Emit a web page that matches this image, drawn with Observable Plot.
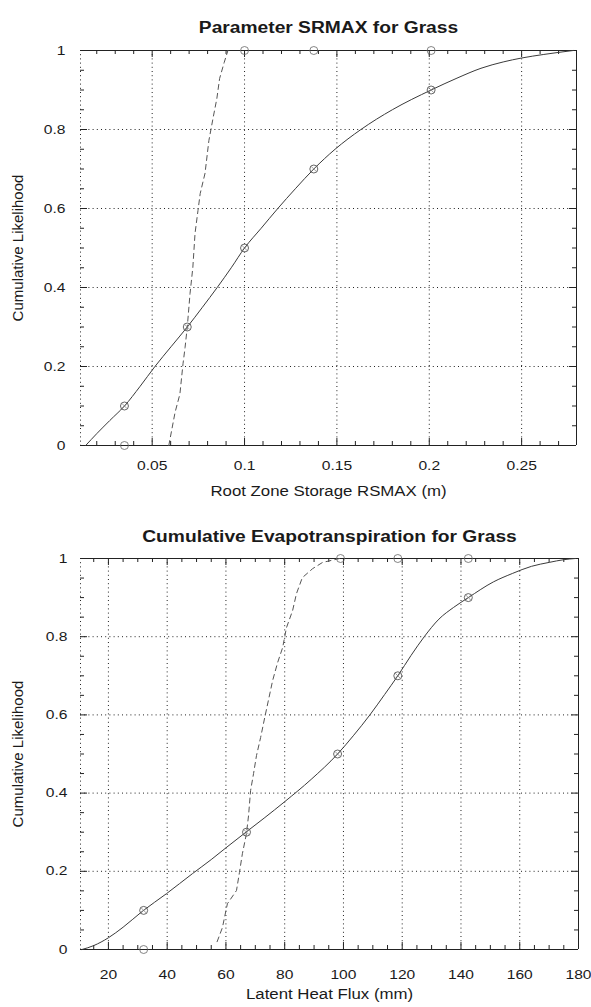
<!DOCTYPE html>
<html><head><meta charset="utf-8">
<script src="https://cdn.jsdelivr.net/npm/d3@7"></script>
<script src="https://cdn.jsdelivr.net/npm/@observablehq/plot@0.6"></script>
<style>
body{margin:0;background:#fff;}
#chart svg{display:block;}
</style></head><body><div id="chart"></div>
<script>
// ---------- Panel 1: Parameter SRMAX ----------
const srmaxTitle = "Parameter SRMAX for Grass";
const srmaxXLabel = "Root Zone Storage RSMAX (m)";
const yLabelText = "Cumulative Likelihood";
const srmaxDomain = [0.0112, 0.2797];
const srmaxTicks = [0.05, 0.1, 0.15, 0.2, 0.25];
const srmaxTickLabels = ["0.05", "0.1", "0.15", "0.2", "0.25"];
const srmaxMinor = [0.02,0.03,0.04,0.06,0.07,0.08,0.09,0.11,0.12,0.13,0.14,0.16,0.17,0.18,0.19,0.21,0.22,0.23,0.24,0.26,0.27];
const srmaxSolidX = [0.014, 0.02, 0.027, 0.035, 0.0435, 0.0515, 0.0602, 0.069, 0.0772, 0.0852, 0.0928, 0.1, 0.109, 0.118, 0.1275, 0.1375, 0.149, 0.163, 0.18, 0.201, 0.215, 0.228, 0.24, 0.25, 0.262, 0.278];
const srmaxSolidY = [0, 0.03, 0.063, 0.1, 0.15, 0.2, 0.25, 0.3, 0.35, 0.4, 0.45, 0.5, 0.55, 0.6, 0.65, 0.7, 0.75, 0.8, 0.85, 0.9, 0.93, 0.955, 0.971, 0.981, 0.99, 1.0];
const srmaxDashX = [0.059, 0.0624, 0.065, 0.0667, 0.0678, 0.069, 0.0705, 0.072, 0.0732, 0.0748, 0.076, 0.0786, 0.0807, 0.083, 0.085, 0.0865, 0.089, 0.091];
const srmaxDashY = [0, 0.084, 0.13, 0.207, 0.248, 0.3, 0.385, 0.45, 0.537, 0.595, 0.638, 0.689, 0.772, 0.83, 0.878, 0.929, 0.97, 1.0];
const srmaxMarkX = [0.035, 0.069, 0.1, 0.1375, 0.201];
const srmaxMarkY = [0.1, 0.3, 0.5, 0.7, 0.9];
const srmaxEdgeX = [0.035, 0.1, 0.1375, 0.201];
const srmaxEdgeY = [0, 1, 1, 1];

// ---------- Panel 2: Cumulative Evapotranspiration ----------
const etTitle = "Cumulative Evapotranspiration for Grass";
const etXLabel = "Latent Heat Flux (mm)";
const etDomain = [10.5, 180];
const etTicks = [20, 40, 60, 80, 100, 120, 140, 160, 180];
const etTickLabels = ["20", "40", "60", "80", "100", "120", "140", "160", "180"];
const etMinor = [15,25,30,35,45,50,55,65,70,75,85,90,95,105,110,115,125,130,135,145,150,155,165,170,175];
const etSolidX = [11, 15, 20, 25, 31.6, 39.8, 48.6, 55, 60, 66.8, 73, 80, 89, 98, 103.5, 109, 114, 118.5, 123, 127.5, 132.5, 137.5, 142.5, 151, 157.6, 164, 170, 175, 179];
const etSolidY = [0, 0.01, 0.03, 0.057, 0.098, 0.143, 0.194, 0.23, 0.26, 0.3, 0.336, 0.378, 0.435, 0.5, 0.548, 0.6, 0.652, 0.7, 0.752, 0.8, 0.845, 0.875, 0.9, 0.94, 0.962, 0.98, 0.99, 0.997, 1.0];
const etDashX = [57, 58.8, 60.5, 63.6, 64.6, 65.6, 67, 67.7, 68.4, 69.4, 70.4, 71.8, 73.2, 75.9, 77.6, 79.3, 80.6, 82.7, 84, 86, 89.5, 92.9, 98.7];
const etDashY = [0.02, 0.056, 0.117, 0.151, 0.197, 0.245, 0.297, 0.343, 0.407, 0.45, 0.496, 0.542, 0.593, 0.688, 0.734, 0.772, 0.823, 0.867, 0.91, 0.951, 0.974, 0.99, 1.0];
const etMarkX = [32, 67, 98, 118.5, 142.5];
const etMarkY = [0.1, 0.3, 0.5, 0.7, 0.9];
const etEdgeX = [32, 99, 118.5, 142.5];
const etEdgeY = [0, 1, 1, 1];

// ---------- shared y axis ----------
const yTicks = [0, 0.2, 0.4, 0.6, 0.8, 1];
const yTickLabels = ["0", "0.2", "0.4", "0.6", "0.8", "1"];
const yGrid = [0.2, 0.4, 0.6, 0.8];
const yMinor = [0.05,0.1,0.15,0.25,0.3,0.35,0.45,0.5,0.55,0.65,0.7,0.75,0.85,0.9,0.95];

const zip = (xs, ys) => xs.map((x, i) => ({x, y: ys[i]}));

function panel(c) {
  const W = 591, ML = 80;
  const innerW = W - ML - c.marginRight;
  const innerH = c.height - c.marginTop - c.marginBottom;
  const maj = 7, mnr = 4;
  const xLab = new Map(c.xTicks.map((t, i) => [t, c.xTickLabels[i]]));
  const yLab = new Map(yTicks.map((t, i) => [t, yTickLabels[i]]));
  const grid = {stroke: "#222", strokeWidth: 1, strokeDasharray: "1,3.2"};
  const edge = {stroke: "#222", strokeWidth: 1};
  return Plot.plot({
    width: W, height: c.height,
    marginTop: c.marginTop, marginBottom: c.marginBottom, marginLeft: ML, marginRight: c.marginRight,
    x: {domain: c.xDomain},
    y: {domain: [0, 1]},
    style: {fontFamily: "'Liberation Sans', Arial, sans-serif", fontSize: "13px", color: "#1a1a1a", background: "#fff"},
    marks: [
      Plot.ruleX(c.xTicks, {x: d => d, ...grid}),
      Plot.ruleY(yGrid, {y: d => d, ...grid}),
      Plot.ruleX([c.xDomain[0]], {x: d => d, ...grid}),
      Plot.ruleX([c.xDomain[1]], {x: d => d, ...edge}),
      Plot.ruleY([0, 1], {y: d => d, ...edge}),
      Plot.tickX(c.xMinor, {x: d => d, insetTop: innerH - mnr, ...edge}),
      Plot.tickX(c.xMinor, {x: d => d, insetBottom: innerH - mnr, ...edge}),
      Plot.tickX(c.xTicks, {x: d => d, insetTop: innerH - maj, ...edge}),
      Plot.tickX(c.xTicks, {x: d => d, insetBottom: innerH - maj, ...edge}),
      Plot.tickY(yMinor, {y: d => d, insetRight: innerW - mnr, ...edge}),
      Plot.tickY(yMinor, {y: d => d, insetLeft: innerW - mnr, ...edge}),
      Plot.tickY(yTicks, {y: d => d, insetRight: innerW - maj, ...edge}),
      Plot.tickY(yTicks, {y: d => d, insetLeft: innerW - maj, ...edge}),
      Plot.line(zip(c.solidX, c.solidY), {x: "x", y: "y", stroke: "#3a3a3a", strokeWidth: 1, curve: "monotone-x"}),
      Plot.line(zip(c.dashX, c.dashY), {x: "x", y: "y", stroke: "#555", strokeWidth: 1, strokeDasharray: "5,4"}),
      Plot.dot(zip(c.markX, c.markY), {x: "x", y: "y", r: 4, stroke: "#555", strokeWidth: 0.9, fill: "none"}),
      Plot.dot(zip(c.markX, c.markY), {x: "x", y: "y", r: 2.5, symbol: "times", stroke: "#777", strokeWidth: 0.7}),
      Plot.dot(zip(c.edgeX, c.edgeY), {x: "x", y: "y", r: 4, stroke: "#666", strokeWidth: 0.8, fill: "none"}),
      Plot.axisX({ticks: c.xTicks, tickSize: 0, tickPadding: c.xPad, tickFormat: d => xLab.get(d), label: null}),
      Plot.axisY({ticks: yTicks, tickSize: 0, tickPadding: c.yPad, tickFormat: d => yLab.get(d), label: null}),
      Plot.text([c.title], {text: d => d, frameAnchor: "top", dy: c.titleDy, fontSize: 16, fontWeight: "bold", fill: "#1a1a1a"}),
      Plot.text([c.xLabel], {text: d => d, frameAnchor: "bottom", dy: c.labelDy, fontSize: 14, fill: "#1a1a1a"}),
      Plot.text([yLabelText], {text: d => d, frameAnchor: "left", textAnchor: "middle", dx: -62, rotate: -90, fontSize: 15, fill: "#1a1a1a"})
    ]
  });
}

const host = document.getElementById("chart");
host.append(panel({
  title: srmaxTitle, xLabel: srmaxXLabel, xDomain: srmaxDomain,
  xTicks: srmaxTicks, xTickLabels: srmaxTickLabels, xMinor: srmaxMinor,
  solidX: srmaxSolidX, solidY: srmaxSolidY, dashX: srmaxDashX, dashY: srmaxDashY,
  markX: srmaxMarkX, markY: srmaxMarkY, edgeX: srmaxEdgeX, edgeY: srmaxEdgeY,
  height: 505, marginTop: 50, marginBottom: 60, marginRight: 15,
  xPad: 15, yPad: 15, titleDy: -28.5, labelDy: 50
}));
host.append(panel({
  title: etTitle, xLabel: etXLabel, xDomain: etDomain,
  xTicks: etTicks, xTickLabels: etTickLabels, xMinor: etMinor,
  solidX: etSolidX, solidY: etSolidY, dashX: etDashX, dashY: etDashY,
  markX: etMarkX, markY: etMarkY, edgeX: etEdgeX, edgeY: etEdgeY,
  height: 502, marginTop: 53, marginBottom: 58, marginRight: 13,
  xPad: 20, yPad: 13, titleDy: -28, labelDy: 49
}));

// horizontal stretch of horizontal texts only (reference is scanned wide)
try {
  host.querySelectorAll("svg text").forEach(t => {
    const tr = (t.getAttribute("transform") || "") + " " + ((t.parentNode && t.parentNode.getAttribute && t.parentNode.getAttribute("transform")) || "");
    if (tr.includes("rotate")) return;
    const L = t.getComputedTextLength();
    if (L > 0) {
      t.setAttribute("textLength", (L * 1.2).toFixed(1));
      t.setAttribute("lengthAdjust", "spacingAndGlyphs");
    }
  });
} catch (e) {}
</script>
</body></html>
